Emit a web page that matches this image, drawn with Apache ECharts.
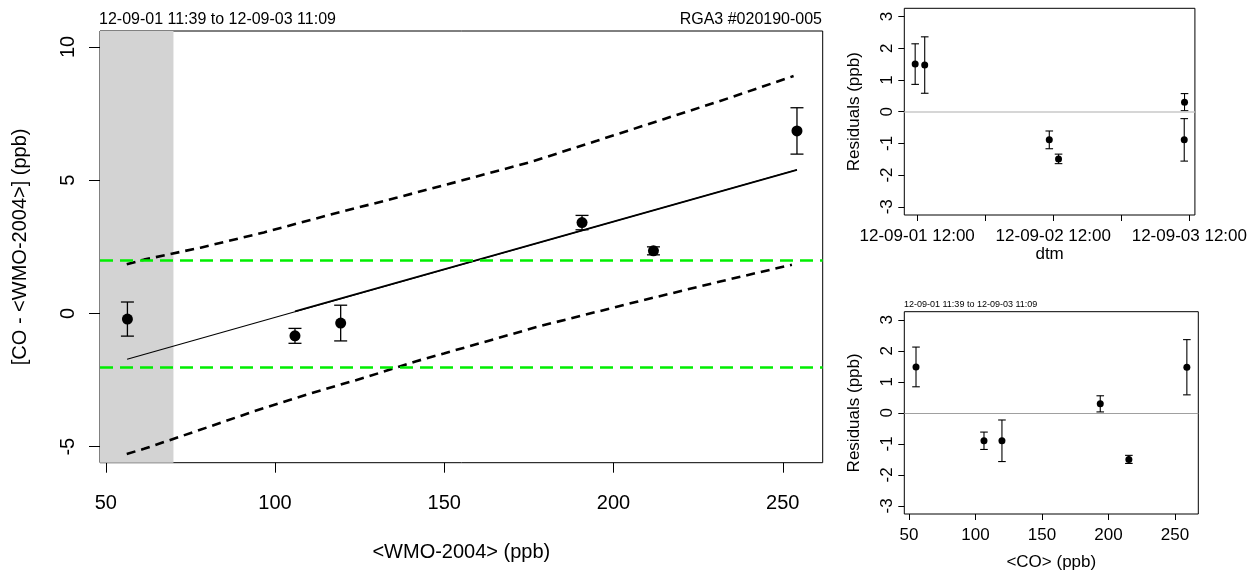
<!DOCTYPE html>
<html><head><meta charset="utf-8">
<script src="https://cdn.jsdelivr.net/npm/echarts@6/dist/echarts.min.js"></script>
<style>html,body{margin:0;padding:0;background:#fff}#c{width:1250px;height:572px}</style>
</head><body><div id="c"></div>
<script>
// ---------- data ----------
const titleLeft = '12-09-01 11:39 to 12-09-03 11:09';
const titleRight = 'RGA3 #020190-005';

// main panel: <WMO-2004> vs [CO - <WMO-2004>]
const wmo      = [56.4, 105.9, 119.4, 190.7, 211.8, 254.2];
const diffCO   = [-0.21, -0.84, -0.36, 3.41, 2.35, 6.85];
const diffErr  = [0.64, 0.28, 0.67, 0.27, 0.15, 0.87];

const fitX     = [56.3, 254.2];
const fitY     = [-1.72, 5.39];
const fitSegX  = [105.9, 254.2];
const fitSegY  = [0.08, 5.39];

const bandUpX  = [56.2, 61.3, 78.0, 96.7, 116.4, 136.1, 152.8, 175.4, 195.1, 214.8, 234.5, 253.2];
const bandUpY  = [1.85, 2.02, 2.47, 3.04, 3.71, 4.35, 4.91, 5.68, 6.48, 7.29, 8.10, 8.91];
const bandLoX  = [56.2, 61.3, 77.1, 93.8, 110.5, 127.2, 141.5, 149.9, 178.4, 206.9, 231.5, 252.7];
const bandLoY  = [-5.27, -5.08, -4.40, -3.67, -3.00, -2.38, -1.80, -1.50, -0.47, 0.44, 1.20, 1.83];

const greyBandEnd = 70;
const limitLines  = [2, -2];
const mainXTicks  = [50, 100, 150, 200, 250];
const mainYTicks  = [-5, 0, 5, 10];

// residuals vs time
const resTimes = ['2012-09-01 11:39', '2012-09-01 13:20', '2012-09-02 11:18', '2012-09-02 12:56', '2012-09-03 11:06', '2012-09-03 11:09'];
const resTime  = [1.50, 1.47, -0.89, -1.49, -0.89, 0.30];
const resTimeErr = [0.64, 0.89, 0.28, 0.15, 0.67, 0.27];
const timeTicks  = ['2012-09-01 12:00', '2012-09-02 00:00', '2012-09-02 12:00', '2012-09-03 00:00', '2012-09-03 12:00'];
const timeLabels = ['2012-09-01 12:00', '2012-09-02 12:00', '2012-09-03 12:00'];

// residuals vs <CO>
const coVals   = [55.3, 106.4, 119.9, 193.8, 215.3, 258.9];
const resCO    = [1.48, -0.90, -0.90, 0.29, -1.50, 1.47];
const resCOErr = [0.64, 0.28, 0.67, 0.26, 0.13, 0.89];
const coTicks  = [50, 100, 150, 200, 250];
const resTicks = [-3, -2, -1, 0, 1, 2, 3];

// ---------- helpers ----------
const FONT = "'Liberation Sans', Arial, Helvetica, sans-serif";
function ts(s) {
  const [d, t] = s.split(' ');
  const [Y, M, D] = d.split('-').map(Number);
  const [h, m] = t.split(':').map(Number);
  return Date.UTC(Y, M - 1, D, h, m);
}
function fmtTime(v) {
  const d = new Date(v);
  const p = n => String(n).padStart(2, '0');
  return p(d.getUTCFullYear() % 100) + '-' + p(d.getUTCMonth() + 1) + '-' + p(d.getUTCDate()) + ' ' + p(d.getUTCHours()) + ':' + p(d.getUTCMinutes());
}
function errRender(capHalf, lw) {
  return function (params, api) {
    const x = api.value(0), y = api.value(1), e = api.value(2);
    const a = api.coord([x, y - e]), b = api.coord([x, y + e]);
    const st = { stroke: '#000', lineWidth: lw };
    return { type: 'group', children: [
      { type: 'line', shape: { x1: a[0], y1: a[1], x2: b[0], y2: b[1] }, style: st },
      { type: 'line', shape: { x1: a[0] - capHalf, y1: a[1], x2: a[0] + capHalf, y2: a[1] }, style: st },
      { type: 'line', shape: { x1: b[0] - capHalf, y1: b[1], x2: b[0] + capHalf, y2: b[1] }, style: st }
    ]};
  };
}
const zip = (xs, ys) => xs.map((x, i) => [x, ys[i]]);
const zip3 = (xs, ys, es) => xs.map((x, i) => [x, ys[i], es[i]]);

const MAIN_X = [48.3, 261.8], MAIN_Y = [-5.6, 10.6];
const TIME_X = [ts('2012-09-01 09:44'), ts('2012-09-03 12:59')];
const CO_X = [46.5, 267.5], RES_Y = [-3.26, 3.26];

function valAxis(gi, min, max, ticks, o) {
  return {
    gridIndex: gi, type: 'value', min: min, max: max,
    axisLine: { show: false, onZero: false }, splitLine: { show: false },
    axisTick: { show: true, length: o.tickLen, customValues: ticks, lineStyle: { color: '#000', width: 1 } },
    axisLabel: { customValues: o.labels || ticks, fontSize: o.fs, color: '#000', fontFamily: FONT, margin: o.margin, rotate: o.rotate || 0, formatter: o.formatter },
    name: o.name, nameLocation: 'middle', nameGap: o.nameGap,
    nameTextStyle: { fontSize: o.fs, color: '#000', fontFamily: FONT }
  };
}

const chart = echarts.init(document.getElementById('c'), null, { renderer: 'canvas' });
chart.setOption({
  animation: false,
  backgroundColor: '#fff',
  title: [
    { text: titleLeft, left: 99, top: 12, padding: 0, textStyle: { fontSize: 16, fontWeight: 'normal', color: '#000', fontFamily: FONT } },
    { text: titleRight, right: 428, top: 12, padding: 0, textStyle: { fontSize: 16, fontWeight: 'normal', color: '#000', fontFamily: FONT } },
    { text: titleLeft, left: 904, top: 300, padding: 0, textStyle: { fontSize: 9, fontWeight: 'normal', color: '#000', fontFamily: FONT } }
  ],
  grid: [
    { left: 100, top: 31, width: 722.7, height: 431.7, show: true, borderColor: '#000', borderWidth: 1, backgroundColor: 'transparent' },
    { left: 904.3, top: 8.3, width: 294, height: 206.7, show: true, borderColor: '#000', borderWidth: 1, backgroundColor: 'transparent' },
    { left: 904.3, top: 311.7, width: 294, height: 206, show: true, borderColor: '#000', borderWidth: 1, backgroundColor: 'transparent' }
  ],
  xAxis: [
    valAxis(0, MAIN_X[0], MAIN_X[1], mainXTicks, { tickLen: 10, fs: 20, margin: 31, name: '<WMO-2004> (ppb)', nameGap: 80 }),
    valAxis(1, TIME_X[0], TIME_X[1], timeTicks.map(ts), { tickLen: 6, fs: 17, margin: 13, labels: timeLabels.map(ts), formatter: fmtTime, name: 'dtm', nameGap: 30 }),
    valAxis(2, CO_X[0], CO_X[1], coTicks, { tickLen: 6, fs: 17, margin: 13, name: '<CO> (ppb)', nameGap: 40 })
  ],
  yAxis: [
    valAxis(0, MAIN_Y[0], MAIN_Y[1], mainYTicks, { tickLen: 11, fs: 20, margin: 22, rotate: 90, name: '[CO - <WMO-2004>] (ppb)', nameGap: 70 }),
    valAxis(1, RES_Y[0], RES_Y[1], resTicks, { tickLen: 6, fs: 17, margin: 8, rotate: 90, name: 'Residuals (ppb)', nameGap: 41 }),
    valAxis(2, RES_Y[0], RES_Y[1], resTicks, { tickLen: 6, fs: 17, margin: 8, rotate: 90, name: 'Residuals (ppb)', nameGap: 41 })
  ],
  series: [
    { type: 'line', xAxisIndex: 0, yAxisIndex: 0, data: [], silent: true, z: 1,
      markArea: { silent: true, itemStyle: { color: '#d3d3d3', opacity: 1 }, data: [[{ coord: [MAIN_X[0], MAIN_Y[0]] }, { coord: [greyBandEnd, MAIN_Y[1]] }]] },
      markLine: { silent: true, symbol: 'none', label: { show: false },
        lineStyle: { color: '#00ee00', width: 2.5, type: [13, 7] },
        data: limitLines.map(v => ({ yAxis: v })) } },
    { type: 'line', xAxisIndex: 0, yAxisIndex: 0, data: zip(bandUpX, bandUpY), symbol: 'none', smooth: false, z: 3,
      lineStyle: { color: '#000', width: 2.6, type: [9, 6] } },
    { type: 'line', xAxisIndex: 0, yAxisIndex: 0, data: zip(bandLoX, bandLoY), symbol: 'none', smooth: false, z: 3,
      lineStyle: { color: '#000', width: 2.6, type: [9, 6] } },
    { type: 'line', xAxisIndex: 0, yAxisIndex: 0, data: zip(fitX, fitY), symbol: 'none', z: 3,
      lineStyle: { color: '#000', width: 1.1 } },
    { type: 'line', xAxisIndex: 0, yAxisIndex: 0, data: zip(fitSegX, fitSegY), symbol: 'none', z: 3,
      lineStyle: { color: '#000', width: 1.8 } },
    { type: 'custom', xAxisIndex: 0, yAxisIndex: 0, data: zip3(wmo, diffCO, diffErr), renderItem: errRender(6.5, 1.3), z: 4 },
    { type: 'scatter', xAxisIndex: 0, yAxisIndex: 0, data: zip(wmo, diffCO), symbol: 'circle', symbolSize: 11, itemStyle: { color: '#000', opacity: 1 }, z: 5 },

    { type: 'line', xAxisIndex: 1, yAxisIndex: 1, data: [], silent: true,
      markLine: { silent: true, symbol: 'none', label: { show: false }, lineStyle: { color: '#c8c8c8', width: 1.5, type: 'solid' }, data: [{ yAxis: 0 }] } },
    { type: 'custom', xAxisIndex: 1, yAxisIndex: 1, data: zip3(resTimes.map(ts), resTime, resTimeErr), renderItem: errRender(3.8, 1.1), z: 4 },
    { type: 'scatter', xAxisIndex: 1, yAxisIndex: 1, data: zip(resTimes.map(ts), resTime), symbolSize: 7, itemStyle: { color: '#000', opacity: 1 }, z: 5 },

    { type: 'line', xAxisIndex: 2, yAxisIndex: 2, data: [], silent: true,
      markLine: { silent: true, symbol: 'none', label: { show: false }, lineStyle: { color: '#a0a0a0', width: 1, type: 'solid' }, data: [{ yAxis: 0 }] } },
    { type: 'custom', xAxisIndex: 2, yAxisIndex: 2, data: zip3(coVals, resCO, resCOErr), renderItem: errRender(3.8, 1.1), z: 4 },
    { type: 'scatter', xAxisIndex: 2, yAxisIndex: 2, data: zip(coVals, resCO), symbolSize: 7, itemStyle: { color: '#000', opacity: 1 }, z: 5 }
  ]
});
</script>
</body></html>
